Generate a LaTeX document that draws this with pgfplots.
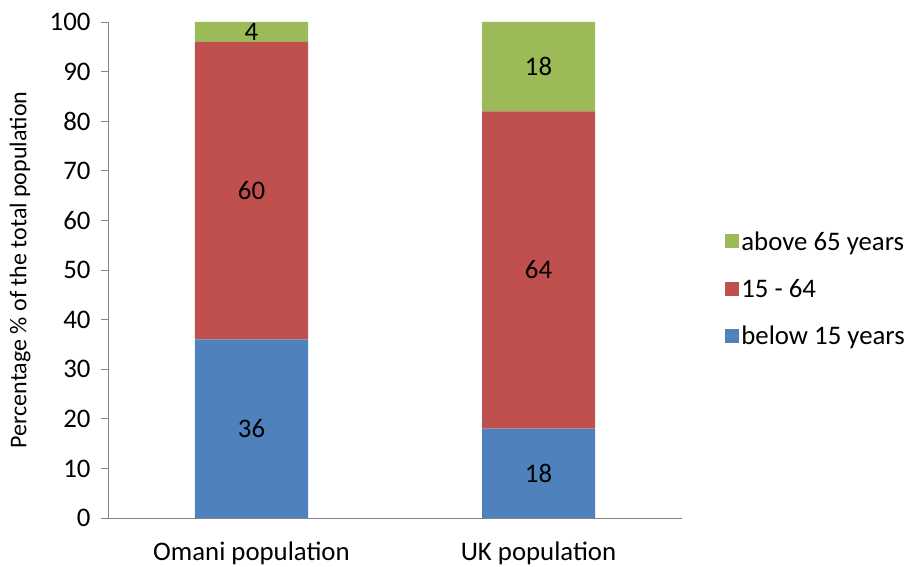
\documentclass[border=0pt]{standalone}
\usepackage{fontspec}
\setmainfont{Carlito}
\usepackage{pgfplots}
\pgfplotsset{compat=1.18}
\definecolor{xlblue}{HTML}{4F81BD}
\definecolor{xlred}{HTML}{C0504D}
\definecolor{xlgreen}{HTML}{9BBB59}
\definecolor{axisgray}{HTML}{868686}
\begin{document}
\begin{tikzpicture}[font=\fontsize{26.8}{32}\selectfont]
\useasboundingbox (-108pt,-48pt) rectangle (802pt,518pt);
\begin{axis}[
  at={(0,0)}, anchor=south west,
  width=574pt, height=496pt, scale only axis,
  ybar stacked, bar width=113pt,
  xmin=-0.5, xmax=1.5, ymin=0, ymax=100,
  ytick={0,10,...,100},
  xtick={0,1}, xticklabels={Omani population, UK population},
  axis lines*=left,
  axis line style={draw=axisgray, line width=0.8pt},
  tick align=outside, major tick length=7pt,
  ytick style={draw=axisgray, line width=0.8pt},
  xtick style={draw=none},
  extra x ticks={-0.5,0.5,1.5}, extra x tick labels={},
  extra x tick style={tick style={draw=axisgray, line width=0.8pt}},
  /pgf/number format/assume math mode=true,
  yticklabel style={xshift=-7pt},
  xticklabel style={yshift=-13pt},
  ylabel={Percentage \% of the total population},
  ylabel style={font=\fontsize{24}{29}\selectfont, at={(axis description cs:-0.153,0.5)}, anchor=center},
  nodes near coords,
  every node near coord/.append style={anchor=center, text=black},
  reverse legend,
  legend cell align=left,
  legend style={at={(rel axis cs:1.07,0.462)}, anchor=west, draw=none, fill=none, row sep=23.5pt,
    font=\fontsize{26.8}{32}\selectfont},
  legend image code/.code={\fill[#1] (0pt,-7pt) rectangle (14pt,7pt);},
]
\addplot[fill=xlblue, draw=none] coordinates {(0,36) (1,18)};
\addplot[fill=xlred, draw=none] coordinates {(0,60) (1,64)};
\addplot[fill=xlgreen, draw=none] coordinates {(0,4) (1,18)};
\legend{below 15 years, 15 - 64, above 65 years}
\end{axis}
\end{tikzpicture}
\end{document}
